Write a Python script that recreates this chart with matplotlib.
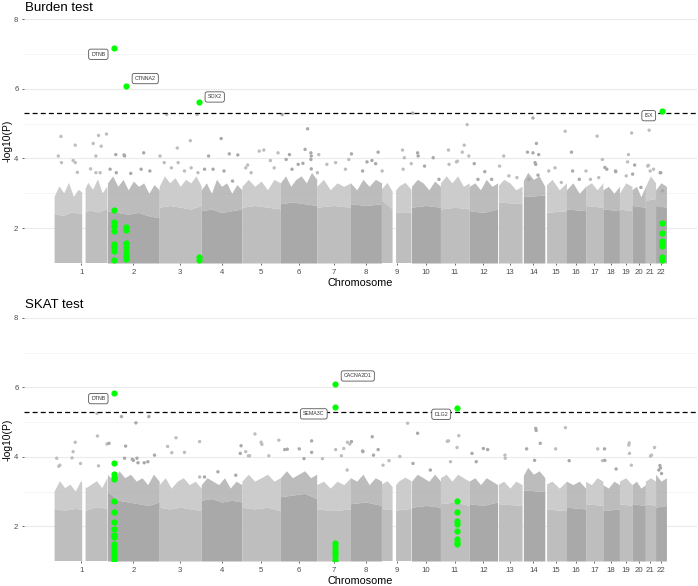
import matplotlib
matplotlib.use("Agg")
import matplotlib.pyplot as plt
import numpy as np

plt.rcParams['font.family'] = ['Liberation Sans', 'DejaVu Sans']

# chromosome lengths (Mb), used as the cumulative x axis
chrom_len = [249, 243, 198, 191, 181, 171, 159, 146, 141, 136, 135,
             134, 115, 107, 102, 90, 81, 78, 59, 63, 48, 51]
chrom_labels = [str(i) for i in range(1, 23)]
# regions without genes (chrom, start Mb, end Mb)
chrom_gaps = [(1, 130, 145), (9, 52, 68), (13, 0, 4), (14, 0, 6), (15, 0, 8)]

# top of the solid mass of genes, read along each chromosome
burden_core = [
    [2.40, 2.35, 2.45, 2.40, 2.50, 2.45, 2.55],
    [2.50, 2.45, 2.40, 2.45, 2.35, 2.30],
    [2.60, 2.65, 2.60, 2.55, 2.65],
    [2.50, 2.55, 2.45, 2.50, 2.55],
    [2.60, 2.65, 2.60, 2.55],
    [2.70, 2.75, 2.70, 2.65],
    [2.60, 2.65, 2.60],
    [2.70, 2.65, 2.70],
    [2.80, 2.45, 2.45],
    [2.60, 2.65, 2.60],
    [2.55, 2.60, 2.55],
    [2.50, 2.45, 2.55],
    [2.75, 2.70],
    [2.90, 2.95],
    [2.45, 2.50],
    [2.55, 2.50],
    [2.65, 2.60],
    [2.55, 2.50],
    [2.55, 2.50],
    [2.65, 2.60],
    [2.80, 2.85],
    [2.65, 2.60],
]
# top of the dense scatter above it
burden_fringe = [
    [2.9, 3.2, 3.0, 3.3, 2.9, 3.1, 3.0, 3.3, 3.1, 3.4, 3.0, 3.2],
    [3.3, 3.5, 3.2, 3.4, 3.1, 3.35, 3.2, 3.3, 3.0, 3.25, 3.1],
    [3.2, 3.5, 3.3, 3.45, 3.2, 3.4, 3.3, 3.5, 3.2],
    [3.1, 3.3, 3.0, 3.4, 3.2, 3.3, 3.0, 3.25, 3.1],
    [3.2, 3.4, 3.2, 3.35, 3.1, 3.4, 3.3],
    [3.3, 3.5, 3.2, 3.4, 3.5, 3.3, 3.6, 3.4],
    [3.2, 3.4, 3.1, 3.3, 3.2, 3.3],
    [3.3, 3.1, 3.4, 3.2, 3.4, 3.3],
    [3.1, 3.3, 3.0, 3.2, 3.3, 3.1],
    [3.2, 3.4, 3.3, 3.1, 3.35, 3.2],
    [3.3, 3.5, 3.3, 3.5, 3.2, 3.3],
    [3.2, 3.3, 3.1, 3.4, 3.2, 3.3],
    [3.2, 3.4, 3.3, 3.1, 3.2],
    [3.3, 3.6, 3.4, 3.5, 3.2],
    [3.2, 3.4, 3.1, 3.3],
    [3.1, 3.3, 3.0, 3.2],
    [3.2, 3.3, 3.1, 3.3],
    [3.1, 3.2, 3.0, 3.2],
    [3.0, 3.3, 3.2],
    [3.1, 3.2, 2.9, 3.2],
    [3.2, 3.5, 3.3],
    [3.1, 3.3, 3.2],
]
skat_core = [
    [2.50, 2.45, 2.50, 2.45, 2.55, 2.50],
    [3.00, 2.75, 2.70, 2.65, 2.60, 2.70],
    [2.55, 2.50, 2.55, 2.50, 2.45],
    [2.75, 2.80, 2.70, 2.75, 2.70],
    [2.55, 2.50, 2.55, 2.45],
    [2.85, 2.90, 2.95, 2.80],
    [2.50, 2.45, 2.50],
    [2.65, 2.70, 2.60],
    [2.50, 2.45, 2.50],
    [2.55, 2.60, 2.55],
    [2.65, 2.70, 2.60],
    [2.65, 2.60, 2.70],
    [2.65, 2.60],
    [3.05, 3.00],
    [2.50, 2.45],
    [2.55, 2.50],
    [2.65, 2.60],
    [2.45, 2.50],
    [2.65, 2.60],
    [2.65, 2.60],
    [2.65, 2.60],
    [2.55, 2.60],
]
skat_fringe = [
    [3.0, 3.3, 3.1, 3.2, 3.0, 3.3, 3.1, 3.2, 3.3, 3.1, 3.4],
    [3.5, 3.3, 3.6, 3.4, 3.5, 3.3, 3.4, 3.2, 3.5, 3.3],
    [3.2, 3.4, 3.1, 3.3, 3.4, 3.2, 3.3, 3.1],
    [3.2, 3.4, 3.3, 3.2, 3.4, 3.1, 3.3, 3.2],
    [3.3, 3.5, 3.3, 3.4, 3.5, 3.3, 3.4],
    [3.4, 3.6, 3.4, 3.5, 3.6, 3.4, 3.5],
    [3.2, 3.3, 3.1, 3.3, 3.2, 3.4],
    [3.4, 3.3, 3.5, 3.2, 3.4, 3.3],
    [3.2, 3.3, 3.1, 3.3, 3.4, 3.3],
    [3.3, 3.5, 3.4, 3.3, 3.5, 3.3],
    [3.4, 3.5, 3.3, 3.5, 3.4, 3.3],
    [3.3, 3.4, 3.2, 3.4, 3.3, 3.2],
    [3.2, 3.3, 3.1, 3.3, 3.2],
    [3.4, 3.7, 3.5, 3.6, 3.4],
    [3.2, 3.3, 3.1, 3.3],
    [3.3, 3.2, 3.3, 3.1],
    [3.3, 3.2, 3.4, 3.3],
    [3.2, 3.1, 3.3, 3.2],
    [3.3, 3.4, 3.2],
    [3.2, 3.3, 3.1, 3.2],
    [3.3, 3.4, 3.3],
    [3.5, 3.3, 3.4],
]

# isolated genes above the mass: (chrom, fraction along chrom, -log10 P)
burden_spots = [
    (1, 0.12, 4.63), (1, 0.07, 4.07), (1, 0.13, 3.88), (1, 0.39, 4.38), (1, 0.35, 3.94),
    (1, 0.39, 3.88), (1, 0.43, 3.60), (1, 0.73, 4.43), (1, 0.83, 4.66), (1, 0.88, 4.35),
    (1, 0.78, 4.07), (1, 0.98, 4.70), (1, 0.68, 3.70), (1, 0.78, 3.59), (1, 0.86, 3.59),
    (2, 0.05, 3.69), (2, 0.16, 4.11), (2, 0.17, 3.59), (2, 0.32, 4.10), (2, 0.33, 4.07),
    (2, 0.45, 3.57), (2, 0.65, 3.69), (2, 0.70, 4.16), (2, 0.82, 3.64),
    (3, 0.02, 4.07), (3, 0.18, 5.26), (3, 0.12, 3.88), (3, 0.29, 3.73), (3, 0.43, 4.30),
    (3, 0.45, 3.88), (3, 0.60, 3.64), (3, 0.74, 4.51), (3, 0.76, 3.73), (3, 0.90, 5.26),
    (3, 0.92, 3.59),
    (4, 0.08, 3.69), (4, 0.18, 4.07), (4, 0.29, 3.69), (4, 0.49, 4.57), (4, 0.56, 3.64),
    (4, 0.69, 4.13), (4, 0.77, 3.35), (4, 0.90, 4.10),
    (5, 0.10, 3.73), (5, 0.15, 3.81), (5, 0.24, 3.59), (5, 0.45, 4.21), (5, 0.57, 4.24),
    (5, 0.74, 3.94), (5, 0.84, 3.73), (5, 0.94, 4.16),
    (6, 0.05, 5.26), (6, 0.16, 3.97), (6, 0.25, 4.11), (6, 0.32, 3.69), (6, 0.49, 3.83),
    (6, 0.62, 3.86), (6, 0.68, 4.26), (6, 0.75, 4.85), (6, 0.84, 4.16), (6, 0.85, 4.07),
    (6, 0.84, 3.97), (6, 0.85, 3.70),
    (7, 0.02, 3.59), (7, 0.06, 4.11), (7, 0.30, 3.83), (7, 0.56, 3.88), (7, 0.85, 3.69),
    (7, 0.95, 3.97),
    (8, 0.03, 4.13), (8, 0.39, 3.64), (8, 0.53, 3.90), (8, 0.69, 3.94), (8, 0.81, 3.85),
    (8, 0.89, 4.18),
    (9, 0.02, 3.64), (9, 0.70, 4.24), (9, 0.76, 4.02), (9, 0.72, 3.69), (9, 0.99, 3.85),
    (10, 0.04, 5.30), (10, 0.21, 4.16), (10, 0.23, 4.07), (10, 0.45, 3.78), (10, 0.75, 4.02),
    (10, 0.95, 3.40),
    (11, 0.28, 4.24), (11, 0.30, 3.83), (11, 0.56, 3.90), (11, 0.59, 3.92), (11, 0.76, 4.18),
    (11, 0.83, 4.38), (11, 0.93, 4.97), (11, 0.99, 4.07),
    (12, 0.18, 3.85), (12, 0.31, 3.40), (12, 0.55, 3.62), (12, 0.79, 3.40),
    (13, 0.08, 3.78), (13, 0.25, 4.07), (13, 0.46, 3.50), (13, 0.79, 3.45),
    (14, 0.24, 4.18), (14, 0.30, 3.40), (14, 0.48, 5.16), (14, 0.48, 4.16), (14, 0.57, 3.88),
    (14, 0.60, 3.83), (14, 0.63, 4.43), (14, 0.70, 3.52), (14, 0.73, 4.11),
    (15, 0.18, 3.64), (15, 0.47, 3.73), (15, 0.76, 3.31), (15, 0.94, 4.78),
    (16, 0.26, 4.18), (16, 0.32, 3.64), (16, 0.67, 3.40),
    (17, 0.02, 3.64), (17, 0.28, 3.40), (17, 0.67, 4.64), (17, 0.76, 3.45), (17, 0.97, 3.97),
    (18, 0.12, 3.74), (18, 0.24, 3.69), (18, 0.76, 3.64), (18, 0.78, 3.62),
    (19, 0.54, 3.50), (19, 0.65, 3.90), (19, 0.72, 4.11), (19, 0.97, 4.73),
    (20, 0.05, 3.55), (20, 0.20, 3.81), (20, 0.67, 3.17),
    (21, 0.23, 3.78), (21, 0.30, 3.80), (21, 0.37, 4.81), (21, 0.47, 3.64), (21, 0.80, 3.69),
    (22, 0.42, 3.59), (22, 0.48, 3.59), (22, 0.64, 3.07),
]
skat_spots = [
    (1, 0.04, 3.96), (1, 0.08, 3.73), (1, 0.10, 3.76), (1, 0.33, 3.97), (1, 0.35, 4.15),
    (1, 0.39, 4.42), (1, 0.49, 3.81), (1, 0.80, 5.25), (1, 0.81, 4.60), (1, 0.83, 3.74),
    (1, 0.99, 4.37),
    (2, 0.03, 4.39), (2, 0.27, 5.16), (2, 0.33, 3.96), (2, 0.35, 4.31), (2, 0.48, 3.93),
    (2, 0.50, 3.90), (2, 0.55, 4.98), (2, 0.57, 3.96), (2, 0.59, 3.83), (2, 0.71, 3.83),
    (2, 0.78, 3.86), (2, 0.80, 5.16), (2, 0.91, 4.05),
    (3, 0.20, 4.30), (3, 0.30, 4.12), (3, 0.40, 4.55), (3, 0.60, 4.13), (3, 0.96, 4.44),
    (3, 0.96, 3.42),
    (4, 0.08, 3.42), (4, 0.41, 3.57), (4, 0.85, 3.47), (4, 0.96, 4.10), (4, 0.98, 4.32),
    (5, 0.10, 4.15), (5, 0.17, 4.03), (5, 0.20, 4.03), (5, 0.34, 4.66), (5, 0.50, 4.42),
    (5, 0.52, 4.36), (5, 0.70, 4.03), (5, 0.96, 4.48),
    (6, 0.12, 4.21), (6, 0.19, 4.22), (6, 0.52, 4.23), (6, 0.65, 3.95), (6, 0.86, 4.46),
    (6, 0.86, 4.13),
    (7, 0.17, 3.95), (7, 0.56, 4.21), (7, 0.73, 4.03), (7, 0.80, 4.24), (7, 0.90, 3.62),
    (7, 0.91, 4.42), (7, 0.98, 4.37),
    (8, 0.03, 4.44), (8, 0.39, 4.17), (8, 0.40, 4.15), (8, 0.70, 4.58), (8, 0.74, 4.05),
    (8, 0.89, 4.21),
    (9, 0.05, 3.76), (9, 0.25, 3.89), (9, 0.61, 4.01), (9, 0.87, 4.97),
    (10, 0.05, 3.81), (10, 0.21, 4.68), (10, 0.65, 3.62),
    (11, 0.24, 4.45), (11, 0.28, 4.46), (11, 0.35, 3.86), (11, 0.58, 4.27), (11, 0.64, 4.61),
    (12, 0.10, 4.10), (12, 0.25, 3.86), (12, 0.50, 4.24), (12, 0.65, 4.21),
    (13, 0.30, 4.05), (13, 0.31, 3.96),
    (14, 0.20, 4.23), (14, 0.55, 3.90), (14, 0.60, 4.82), (14, 0.62, 4.76), (14, 0.80, 4.39),
    (15, 0.50, 4.23), (15, 0.95, 4.84),
    (16, 0.14, 3.89),
    (17, 0.70, 4.23), (17, 0.98, 3.89),
    (18, 0.10, 4.23), (18, 0.12, 3.90), (18, 0.80, 3.65),
    (19, 0.75, 4.34), (19, 0.78, 4.40), (19, 0.80, 4.10), (19, 0.95, 3.76),
    (21, 0.50, 4.02), (21, 0.60, 4.05), (21, 0.90, 4.27),
    (22, 0.30, 3.62), (22, 0.40, 3.75), (22, 0.45, 3.68), (22, 0.55, 3.52),
]

# highlighted genes: chrom, position (Mb), top value, other tests of the same gene
burden_genes = ["DTNB", "CTNNA2", "SOX2", "ISX"]
burden_gene_chrom = [2, 2, 3, 22]
burden_gene_pos = [32, 88, 186, 29]
burden_gene_logp = [7.16, 6.09, 5.62, 5.37]
burden_gene_other = [
    [2.52, 2.19, 2.05, 1.92, 1.54, 1.45, 1.35, 1.09],
    [2.02, 1.95, 1.57, 1.45, 1.32, 1.21, 1.11],
    [1.16, 1.09],
    [2.14, 1.86, 1.64, 1.56, 1.48, 1.16, 1.10],
]
skat_genes = ["DTNB", "CACNA2D1", "SEMA3C", "DLG2"]
skat_gene_chrom = [2, 7, 7, 11]
skat_gene_pos = [32, 85, 85, 79]
skat_gene_logp = [5.85, 6.10, 5.44, 5.40]
skat_gene_other = [
    [3.83, 3.50, 3.43, 3.35, 2.73, 2.42, 2.11, 1.92, 1.75, 1.68, 1.49, 1.40, 1.30,
     1.20, 1.10, 1.02],
    [],
    [1.51, 1.42, 1.32, 1.22, 1.13, 1.03],
    [2.73, 2.40, 2.16, 2.06, 1.86, 1.62, 1.54, 1.48],
]
# label offsets from the point, in pixels (x right, y up)
burden_label_off = [(-16, -6), (19, 7), (16, 5), (-13, -5)]
skat_label_off = [(-16, -6), (23, 8), (-21, -7), (-16, -6)]

threshold = -np.log10(5e-6)

LIGHT, DARK = '#BEBEBE', '#A9A9A9'
GREEN = '#00FF00'
offsets = np.concatenate([[0], np.cumsum(chrom_len)[:-1]])
total = sum(chrom_len)


def chrom_x(chrom, frac):
    return offsets[chrom - 1] + frac * chrom_len[chrom - 1]


def draw_panel(ax, core, fringe, spots, genes, g_chrom, g_pos, g_logp, g_other, label_off):
    for i, L in enumerate(chrom_len):
        col = LIGHT if i % 2 == 0 else DARK
        start = offsets[i]
        xs = np.linspace(start, start + L, 300)
        cy = np.interp(xs, np.linspace(start, start + L, len(core[i])), core[i])
        fy = np.interp(xs, np.linspace(start, start + L, len(fringe[i])), fringe[i])
        keep = np.ones_like(xs, dtype=bool)
        for c, a, b in chrom_gaps:
            if c == i + 1:
                keep &= ~((xs >= start + a) & (xs <= start + b))
        ax.fill_between(xs, 1, cy, where=keep, color=col, lw=0, zorder=2)
        ax.fill_between(xs, cy, fy, where=keep, color=col, alpha=0.78, lw=0, zorder=2)

    sx = [chrom_x(c, f) for c, f, v in spots]
    sy = [v for c, f, v in spots]
    sc = [LIGHT if c % 2 == 1 else DARK for c, f, v in spots]
    ax.scatter(sx, sy, s=6, c=sc, lw=0, zorder=3)

    ax.axhline(threshold, color='black', ls=(0, (4, 2.5)), lw=0.9, zorder=4)

    for k, gene in enumerate(genes):
        gx = offsets[g_chrom[k] - 1] + g_pos[k]
        ys = [g_logp[k]] + g_other[k]
        ax.scatter([gx] * len(ys), ys, s=20, color=GREEN, lw=0, zorder=5)
        ax.annotate(gene, xy=(gx, g_logp[k]), xytext=label_off[k], textcoords='offset pixels',
                    ha='center', va='center', fontsize=3.8, color='#333333', zorder=6,
                    bbox=dict(boxstyle='round,pad=0.5,rounding_size=0.4', fc='white',
                              ec='#555555', lw=0.6))

    ax.set_xlim(-0.05 * total, 1.05 * total)
    ax.set_ylim(1, 8)
    ax.set_xticks(offsets + np.array(chrom_len) / 2)
    ax.set_xticklabels(chrom_labels)
    ax.set_yticks([2, 4, 6, 8])
    ax.set_yticks([3, 5, 7], minor=True)
    ax.grid(axis='y', which='major', color='#EBEBEB', lw=0.8, zorder=0)
    ax.grid(axis='y', which='minor', color='#F2F2F2', lw=0.5, zorder=0)
    ax.set_axisbelow(True)
    for s in ax.spines.values():
        s.set_visible(False)
    ax.tick_params(axis='both', which='major', labelsize=5.6, labelcolor='#4D4D4D',
                   color='#4D4D4D', length=1.5, width=0.6, pad=2.5)
    ax.tick_params(axis='y', which='minor', length=0)


W, H = 698, 586
fig = plt.figure(figsize=(W / 100, H / 100), dpi=100)

ax1 = fig.add_axes([24 / W, 1 - 263 / H, 673 / W, 244 / H])
draw_panel(ax1, burden_core, burden_fringe, burden_spots, burden_genes, burden_gene_chrom,
           burden_gene_pos, burden_gene_logp, burden_gene_other, burden_label_off)

ax2 = fig.add_axes([24 / W, 1 - 561 / H, 673 / W, 243 / H])
draw_panel(ax2, skat_core, skat_fringe, skat_spots, skat_genes, skat_gene_chrom,
           skat_gene_pos, skat_gene_logp, skat_gene_other, skat_label_off)

for title, ty, xl_y, yl_y in [("Burden test", 8, 283, 141), ("SKAT test", 305, 581, 440)]:
    fig.text(25 / W, 1 - ty / H, title, fontsize=9.5, va='center', ha='left')
    fig.text(360.5 / W, 1 - xl_y / H, "Chromosome", fontsize=7.8, va='center', ha='center')
    fig.text(7.5 / W, 1 - yl_y / H, "-log10(P)", fontsize=7.4, va='center', ha='center',
             rotation=90)

fig.savefig('out.png', dpi=100)
